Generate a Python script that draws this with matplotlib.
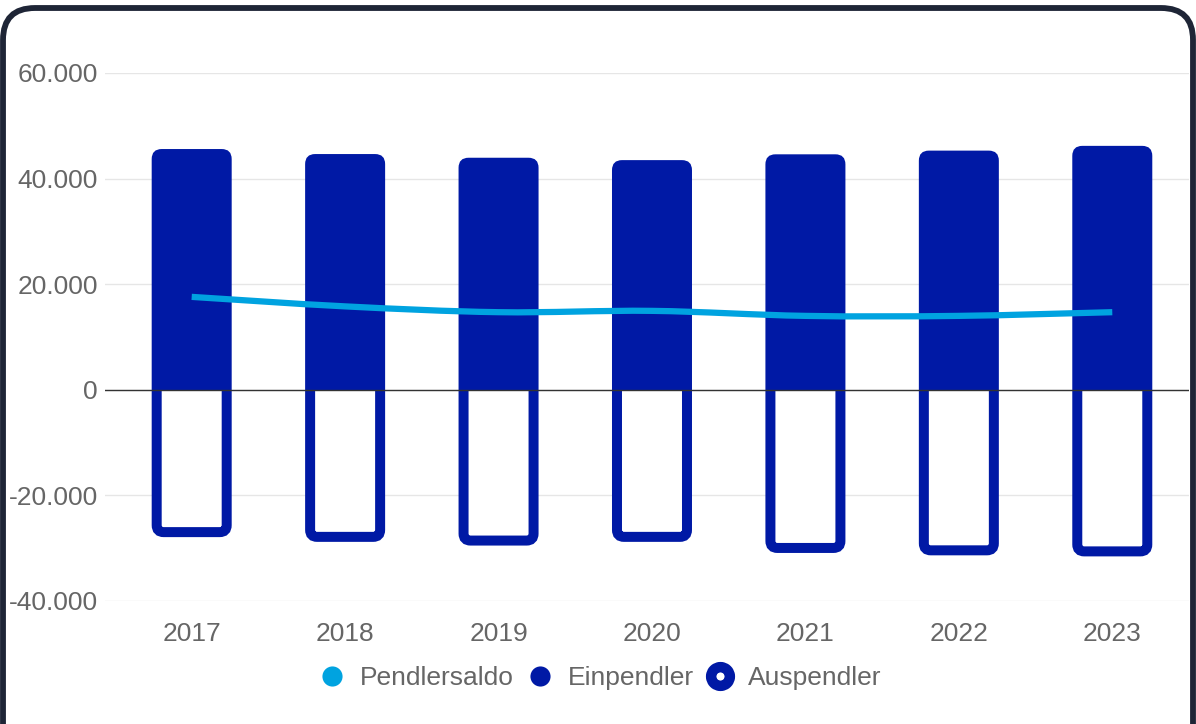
import numpy as np
import matplotlib.pyplot as plt
from matplotlib.patches import FancyBboxPatch, PathPatch, Rectangle
from matplotlib.path import Path
from matplotlib.lines import Line2D
from matplotlib.transforms import IdentityTransform

plt.rcParams['font.family'] = ['Liberation Sans', 'DejaVu Sans']

# Daten
jahre = ['2017', '2018', '2019', '2020', '2021', '2022', '2023']
einpendler = [45600, 44650, 43950, 43500, 44600, 45300, 46200]
auspendler = [27900, 28800, 29500, 28800, 30900, 31350, 31550]
saldo = [17600, 15800, 14700, 14950, 14000, 14000, 14700]

dunkelblau = '#0019A5'
hellblau = '#00A3E0'
grau_text = '#666666'

W, H = 1196, 724
fig = plt.figure(figsize=(W / 100, H / 100), dpi=100)
ax = fig.add_axes([105 / W, 123 / H, (1189 - 105) / W, (651 - 123) / H])

x = np.arange(len(jahre))
ax.set_xlim(-0.565, len(jahre) - 0.5)
ax.set_ylim(-40000, 60000)

# Pixel -> Daten Umrechnung
px_x = (len(jahre) - 0.5 + 0.565) / (1189 - 105)
px_y = 100000 / (651 - 123)
aspect = px_y / px_x

bar_w = 80 * px_x
radius = 10 * px_x
stroke_px = 10

for i in range(len(jahre)):
    # Einpendler (gefüllt, oben abgerundet)
    p = FancyBboxPatch((x[i] - bar_w / 2, -3000), bar_w, einpendler[i] + 3000,
                       boxstyle=f'round,pad=0,rounding_size={radius}',
                       mutation_aspect=aspect, facecolor=dunkelblau,
                       edgecolor='none', zorder=3)
    ax.add_patch(p)
    p.set_clip_path(Rectangle((x[i] - 1, 0), 2, 100000, transform=ax.transData))
    # Auspendler (Umriss)
    d = stroke_px / 2
    q = FancyBboxPatch((x[i] - bar_w / 2 + d * px_x, -auspendler[i] + d * px_y),
                       bar_w - 2 * d * px_x, auspendler[i] - d * px_y + 3000,
                       boxstyle=f'round,pad=0,rounding_size={radius * 0.7}',
                       mutation_aspect=aspect, facecolor='white',
                       edgecolor=dunkelblau, linewidth=stroke_px * 0.72, zorder=4)
    ax.add_patch(q)
    q.set_clip_path(Rectangle((x[i] - 1, -100000), 2, 100000, transform=ax.transData))

# Pendlersaldo als Spline (Catmull-Rom -> Bezier)
pts = np.column_stack([x, saldo]).astype(float)
verts = [tuple(pts[0])]
codes = [Path.MOVETO]
for i in range(len(pts) - 1):
    p0 = pts[max(i - 1, 0)]
    p1 = pts[i]
    p2 = pts[i + 1]
    p3 = pts[min(i + 2, len(pts) - 1)]
    c1 = p1 + (p2 - p0) / 6
    c2 = p2 - (p3 - p1) / 6
    verts += [tuple(c1), tuple(c2), tuple(p2)]
    codes += [Path.CURVE4] * 3
ax.add_patch(PathPatch(Path(verts, codes), facecolor='none', edgecolor=hellblau,
                       linewidth=4.5, capstyle='butt', zorder=6))

ax.axhline(0, color='#333333', linewidth=1, zorder=5)

ax.set_yticks([-40000, -20000, 0, 20000, 40000, 60000])
ax.set_yticklabels(['-40.000', '-20.000', '0', '20.000', '40.000', '60.000'])
ax.set_xticks(x)
ax.set_xticklabels(jahre)
ax.tick_params(length=0, labelsize=19, colors=grau_text)
ax.tick_params(axis='y', pad=5)
ax.tick_params(axis='x', pad=15)
ax.grid(axis='y', color='#e6e6e6', linewidth=1, zorder=0)
ax.set_axisbelow(True)
for s in ax.spines.values():
    s.set_visible(False)

handles = [
    Line2D([], [], linestyle='none', marker='o', markersize=14.5,
           markerfacecolor=hellblau, markeredgecolor='none'),
    Line2D([], [], linestyle='none', marker='o', markersize=14.5,
           markerfacecolor=dunkelblau, markeredgecolor='none'),
    Line2D([], [], linestyle='none', marker='o', markersize=13.5,
           markerfacecolor='white', markeredgecolor=dunkelblau, markeredgewidth=7.5),
]
leg = fig.legend(handles, ['Pendlersaldo', 'Einpendler', 'Auspendler'],
                 loc='center', bbox_to_anchor=(600 / W, (H - 678) / H), ncol=3,
                 frameon=False, fontsize=19, handlelength=1, handletextpad=0.55,
                 columnspacing=0.5, labelcolor=grau_text)

# Rahmen der Karte
rahmen = FancyBboxPatch((3, -60), W - 6, H - 8 + 60,
                        boxstyle='round,pad=0,rounding_size=32',
                        transform=IdentityTransform(), facecolor='none',
                        edgecolor='#1e2536', linewidth=4.2)
fig.patches.append(rahmen)

fig.savefig('out.png', dpi=100)
